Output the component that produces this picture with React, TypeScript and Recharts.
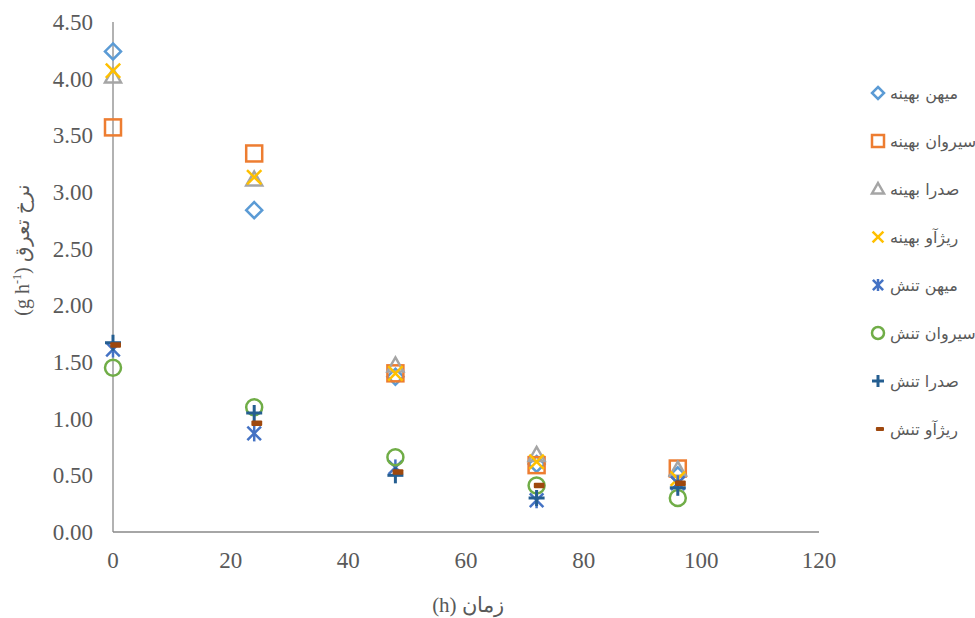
import React from "react";
import { ScatterChart, Scatter, XAxis, YAxis, Label } from "recharts";

// sampling times (h)
const hours = [0, 24, 48, 72, 96];

// transpiration rate per cultivar / treatment
const miehanOptimal = [4.24, 2.84, 1.37, 0.6, 0.5];
const sirvanOptimal = [3.57, 3.34, 1.4, 0.59, 0.56];
const sadraOptimal = [4.02, 3.11, 1.47, 0.68, 0.55];
const rizhaoOptimal = [4.07, 3.13, 1.4, 0.62, 0.47];
const miehanStress = [1.61, 0.87, 0.57, 0.28, 0.43];
const sirvanStress = [1.45, 1.1, 0.66, 0.41, 0.3];
const sadraStress = [1.67, 1.05, 0.5, 0.3, 0.39];
const rizhaoStress = [1.65, 0.96, 0.53, 0.41, 0.43];

const xTicks = [0, 20, 40, 60, 80, 100, 120];
const yTicks = [0, 0.5, 1, 1.5, 2, 2.5, 3, 3.5, 4, 4.5];

type MarkerKind = "diamond" | "square" | "triangle" | "x" | "star" | "circle" | "plus" | "dash";

const series: { name: string; values: number[]; color: string; marker: MarkerKind }[] = [
  { name: "میهن بهینه", values: miehanOptimal, color: "#5B9BD5", marker: "diamond" },
  { name: "سیروان بهینه", values: sirvanOptimal, color: "#ED7D31", marker: "square" },
  { name: "صدرا بهینه", values: sadraOptimal, color: "#A5A5A5", marker: "triangle" },
  { name: "ریژآو بهینه", values: rizhaoOptimal, color: "#FFC000", marker: "x" },
  { name: "میهن تنش", values: miehanStress, color: "#4472C4", marker: "star" },
  { name: "سیروان تنش", values: sirvanStress, color: "#70AD47", marker: "circle" },
  { name: "صدرا تنش", values: sadraStress, color: "#255E91", marker: "plus" },
  { name: "ریژآو تنش", values: rizhaoStress, color: "#9E480E", marker: "dash" },
];

function Marker({ kind, cx, cy, color, s = 8 }: { kind: MarkerKind; cx: number; cy: number; color: string; s?: number }) {
  const sw = 2.5;
  switch (kind) {
    case "diamond":
      return (
        <polygon
          points={`${cx},${cy - s} ${cx + s},${cy} ${cx},${cy + s} ${cx - s},${cy}`}
          fill="none"
          stroke={color}
          strokeWidth={sw}
        />
      );
    case "square":
      return <rect x={cx - s} y={cy - s} width={2 * s} height={2 * s} fill="none" stroke={color} strokeWidth={sw} />;
    case "triangle":
      return (
        <polygon
          points={`${cx},${cy - s} ${cx + s},${cy + s * 0.75} ${cx - s},${cy + s * 0.75}`}
          fill="none"
          stroke={color}
          strokeWidth={sw}
          strokeLinejoin="miter"
        />
      );
    case "x": {
      const d = s * 0.9;
      return (
        <g stroke={color} strokeWidth={sw}>
          <line x1={cx - d} y1={cy - d} x2={cx + d} y2={cy + d} />
          <line x1={cx - d} y1={cy + d} x2={cx + d} y2={cy - d} />
        </g>
      );
    }
    case "star": {
      const d = s * 0.85;
      return (
        <g stroke={color} strokeWidth={sw}>
          <line x1={cx - d} y1={cy - d} x2={cx + d} y2={cy + d} />
          <line x1={cx - d} y1={cy + d} x2={cx + d} y2={cy - d} />
          <line x1={cx} y1={cy - s} x2={cx} y2={cy + s} />
        </g>
      );
    }
    case "circle":
      return <circle cx={cx} cy={cy} r={s} fill="none" stroke={color} strokeWidth={sw} />;
    case "plus":
      return (
        <g stroke={color} strokeWidth={sw + 0.5}>
          <line x1={cx - s} y1={cy} x2={cx + s} y2={cy} />
          <line x1={cx} y1={cy - s} x2={cx} y2={cy + s} />
        </g>
      );
    case "dash":
      return <rect x={cx - s * 0.35} y={cy - s * 0.35} width={s * 1.35} height={s * 0.7} rx={1} fill={color} />;
  }
}

const serif = "'Liberation Serif', 'Times New Roman', serif";

export default function App() {
  return (
    <div style={{ position: "absolute", left: 0, top: 0, width: 975, height: 618, overflow: "hidden", background: "#fff" }}>
      <ScatterChart width={975} height={618} margin={{ top: 22, right: 156, left: 0, bottom: 0 }}>
        <XAxis
          type="number"
          dataKey="x"
          domain={[0, 120]}
          ticks={xTicks}
          interval={0}
          tickLine={false}
          tickSize={0}
          tickMargin={20}
          height={86}
          axisLine={{ stroke: "#898989", strokeWidth: 1.3 }}
          tick={{ fill: "#595959", fontSize: 23, fontFamily: serif }}
        >
          <Label
            content={() => (
              <text x={468} y={612} textAnchor="middle" fill="#595959" fontSize={21} fontFamily={serif}>
                (h) زمان
              </text>
            )}
          />
        </XAxis>
        <YAxis
          type="number"
          dataKey="y"
          domain={[0, 4.5]}
          ticks={yTicks}
          interval={0}
          width={113}
          tickLine={false}
          tickSize={0}
          tickMargin={20}
          axisLine={{ stroke: "#898989", strokeWidth: 1.3 }}
          tickFormatter={(v: number) => v.toFixed(2)}
          tick={{ fill: "#595959", fontSize: 23, fontFamily: serif }}
        >
          <Label
            content={() => (
              <text
                x={0}
                y={0}
                transform="translate(29 250) rotate(-90)"
                textAnchor="middle"
                fill="#595959"
                fontSize={20}
                fontFamily={serif}
              >
                <tspan>(g h</tspan>
                <tspan dy={-8} fontSize={12}>-1</tspan>
                <tspan dy={8}>) نرخ تعرق</tspan>
              </text>
            )}
          />
        </YAxis>
        {series.map((s) => (
          <Scatter
            key={s.name}
            name={s.name}
            data={hours.map((h, i) => ({ x: h, y: s.values[i] }))}
            isAnimationActive={false}
            shape={(p: any) => <Marker kind={s.marker} cx={p.cx} cy={p.cy} color={s.color} />}
          />
        ))}
      </ScatterChart>
      <div style={{ position: "absolute", left: 868, top: 69, fontFamily: "'DejaVu Sans', sans-serif", fontSize: 16, color: "#595959" }}>
        {series.map((s) => (
          <div key={s.name} style={{ display: "flex", alignItems: "center", height: 48, whiteSpace: "nowrap" }}>
            <svg width={20} height={20} style={{ flex: "none" }}>
              <Marker kind={s.marker} cx={10} cy={10} color={s.color} s={6} />
            </svg>
            <span style={{ marginLeft: 2 }}>{s.name}</span>
          </div>
        ))}
      </div>
    </div>
  );
}
